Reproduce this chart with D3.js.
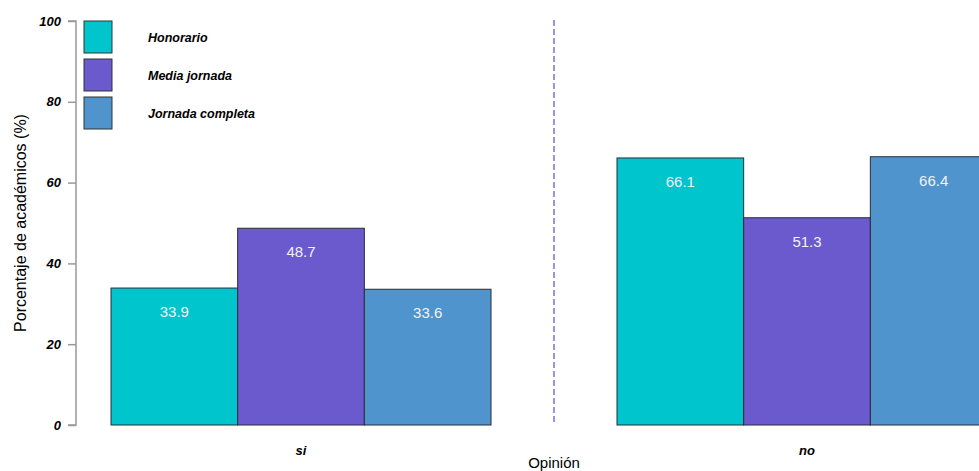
<!DOCTYPE html>
<html><head><meta charset="utf-8">
<script src="https://cdn.jsdelivr.net/npm/d3@7"></script>
<style>body{margin:0;background:#fff}svg{display:block}text{font-family:"Liberation Sans",Arial,sans-serif}</style>
</head><body><svg id="c" width="979" height="471"></svg>
<script>
const categories = ["si", "no"];
const seriesNames = ["Honorario", "Media jornada", "Jornada completa"];
const honorario = [33.9, 66.1];
const mediaJornada = [48.7, 51.3];
const jornadaCompleta = [33.6, 66.4];
const yTicks = [0, 20, 40, 60, 80, 100];
const colors = ["#00C5CD", "#6A5ACD", "#4F94CD"];

const seriesVals = [honorario, mediaJornada, jornadaCompleta];
const svg = d3.select("#c");
const y = d3.scaleLinear().domain([0, 100]).range([425, 21]);
const x0 = d3.scaleBand().domain(categories).range([111, 997]).paddingInner(0.249).paddingOuter(0);
const x1 = d3.scaleBand().domain(seriesNames).range([0, x0.bandwidth()]);

// y axis
const yAxis = d3.axisLeft(y).tickValues(yTicks).tickSize(8).tickFormat(d3.format("d"));
const ga = svg.append("g").attr("transform", "translate(76,0)").call(yAxis);
ga.select(".domain").attr("stroke", "#999").attr("stroke-width", 1.5).attr("d", "M-8,425H0V21H-8");
ga.selectAll(".tick line").attr("stroke", "#999").attr("stroke-width", 1.5);
ga.selectAll(".tick text").attr("x", -15).attr("fill", "#000")
  .style("font-size", "13px").style("font-weight", "bold").style("font-style", "italic");

// bars
categories.forEach((c, ci) => {
  const g = svg.append("g").attr("transform", `translate(${x0(c)},0)`);
  seriesNames.forEach((s, si) => {
    const v = seriesVals[si][ci];
    g.append("rect").attr("x", x1(s)).attr("y", y(v)).attr("width", x1.bandwidth())
      .attr("height", y(0) - y(v)).attr("fill", colors[si]).attr("stroke", "#2b2b3a").attr("stroke-width", 1);
    g.append("text").attr("x", x1(s) + x1.bandwidth() / 2).attr("y", y(v) + 29)
      .attr("text-anchor", "middle").attr("fill", "#f2f2f2").style("font-size", "15px").text(v.toFixed(1));
  });
  svg.append("text").attr("x", x0(c) + x0.bandwidth() / 2).attr("y", 455).attr("text-anchor", "middle")
    .style("font-size", "13px").style("font-weight", "bold").style("font-style", "italic").text(c);
});

// divider
const midX = (x0("si") + x0.bandwidth() + x0("no")) / 2;
svg.append("line").attr("x1", midX).attr("x2", midX).attr("y1", 20).attr("y2", 425)
  .attr("stroke", "#6A5ACD").attr("stroke-width", 1.3).attr("stroke-dasharray", "6,3");

// legend
seriesNames.forEach((s, i) => {
  const yy = 21 + i * 38;
  svg.append("rect").attr("x", 84).attr("y", yy).attr("width", 28).attr("height", 32)
    .attr("fill", colors[i]).attr("stroke", "#333").attr("stroke-width", 1);
  svg.append("text").attr("x", 148).attr("y", yy + 21).style("font-size", "12.5px")
    .style("font-weight", "bold").style("font-style", "italic").text(s);
});

// axis titles
svg.append("text").attr("x", midX).attr("y", 468).attr("text-anchor", "middle").style("font-size", "15px").text("Opinión");
svg.append("text").attr("transform", "translate(26,223) rotate(-90)").attr("text-anchor", "middle")
  .style("font-size", "16px").text("Porcentaje de académicos (%)");
</script></body></html>
